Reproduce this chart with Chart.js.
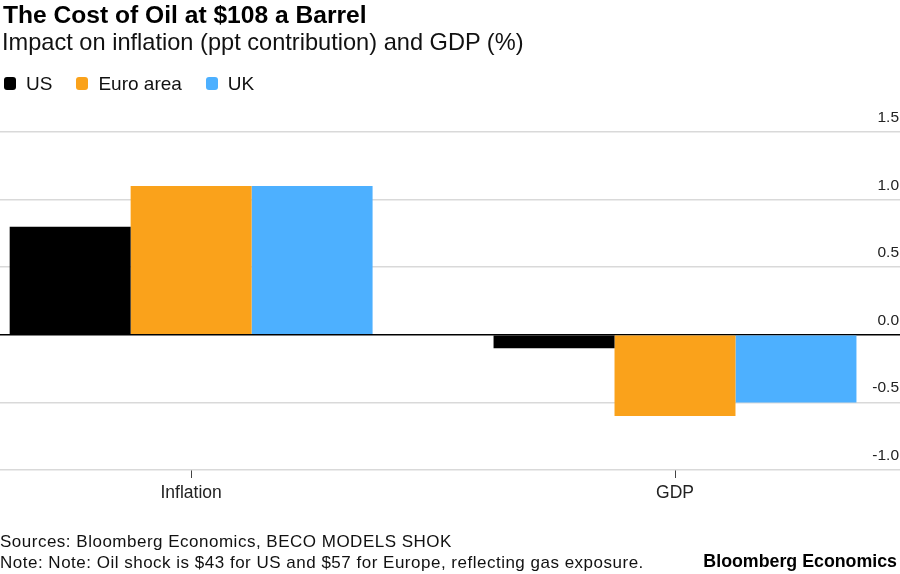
<!DOCTYPE html>
<html lang="en">
  <head>
    <meta charset="UTF-8" />
    <title>The Cost of Oil at $108 a Barrel</title>
    <style>
      body {
        margin: 0;
        padding: 0;
        background: #fff;
        font-family: 'Liberation Sans', Arial, sans-serif;
        color: #111;
      }

      .frame {
        position: relative;
        width: 900px;
        height: 574px;
        overflow: hidden;
      }

      .frame canvas {
        position: absolute;
        left: 0;
        top: 0;
      }

      .txt {
        position: absolute;
        white-space: nowrap;
        line-height: 1;
      }

      .title {
        left: 3px;
        top: 3px;
        font-size: 24.6px;
        font-weight: bold;
        color: #000;
      }

      .subtitle {
        left: 2px;
        top: 31px;
        font-size: 23.6px;
      }

      .legend {
        left: 4px;
        top: 74px;
        font-size: 19px;
        display: flex;
      }

      .legend span {
        display: inline-flex;
        align-items: center;
        margin-right: 24px;
      }

      .legend i {
        display: inline-block;
        width: 12px;
        height: 13px;
        border-radius: 3px;
        margin-right: 10px;
      }

      .foot {
        left: 0;
        font-size: 17px;
        letter-spacing: 0.5px;
      }

      .brand {
        right: 3px;
        top: 553px;
        font-size: 17.8px;
        font-weight: bold;
        color: #000;
      }
    </style>
  </head>
  <body>
    <div class="frame">
      <canvas id="oilChart" width="900" height="574"></canvas>
      <div class="txt title">The Cost of Oil at $108 a Barrel</div>
      <div class="txt subtitle">Impact on inflation (ppt contribution) and GDP (%)</div>
      <div class="txt legend" id="legend"></div>
      <div class="txt foot" style="top: 533px">Sources: Bloomberg Economics, BECO MODELS SHOK</div>
      <div class="txt foot" style="top: 554px">Note: Note: Oil shock is $43 for US and $57 for Europe, reflecting gas exposure.</div>
      <div class="txt brand">Bloomberg Economics</div>
    </div>

    <script src="https://cdn.jsdelivr.net/npm/chart.js"></script>
    <script>
      // data
      const categories = ['Inflation', 'GDP'];
      const seriesNames = ['US', 'Euro area', 'UK'];
      const usValues = [0.8, -0.1];
      const euroValues = [1.1, -0.6];
      const ukValues = [1.1, -0.5];
      const yTicks = [-1.0, -0.5, 0.0, 0.5, 1.0, 1.5];

      const colors = ['#000000', '#faa21b', '#4db0ff'];
      const allValues = [usValues, euroValues, ukValues];

      // html legend
      const legend = document.getElementById('legend');
      seriesNames.forEach(function (name, i) {
        const item = document.createElement('span');
        item.innerHTML = '<i style="background:' + colors[i] + '"></i>' + name;
        legend.appendChild(item);
      });

      // right-side y labels, sitting above each gridline
      const yLabels = {
        id: 'yLabels',
        afterDraw(chart) {
          const ctx = chart.ctx;
          const y = chart.scales.y;
          ctx.save();
          ctx.font = '15.5px "Liberation Sans", Arial, sans-serif';
          ctx.fillStyle = '#222';
          ctx.textAlign = 'right';
          ctx.textBaseline = 'alphabetic';
          yTicks.forEach(function (v) {
            ctx.fillText(v.toFixed(1), chart.width - 1, y.getPixelForValue(v) - 10);
          });
          ctx.restore();
        },
      };

      new Chart(document.getElementById('oilChart'), {
        type: 'bar',
        data: {
          datasets: seriesNames.map(function (name, i) {
            return {
              label: name,
              data: allValues[i].map(function (v, j) {
                return { x: j, y: v };
              }),
              backgroundColor: colors[i],
              borderWidth: 0,
              categoryPercentage: 0.75,
              barPercentage: 1.0,
            };
          }),
        },
        options: {
          responsive: false,
          animation: false,
          devicePixelRatio: 1,
          layout: { padding: { top: 132, bottom: 64, left: 0, right: 0 } },
          plugins: {
            legend: { display: false },
            tooltip: { enabled: false },
          },
          scales: {
            x: {
              type: 'linear',
              offset: false,
              min: -0.395,
              max: 1.465,
              grid: {
                offset: false,
                drawOnChartArea: false,
                drawTicks: true,
                tickLength: 8,
                color: '#444',
              },
              border: { display: false },
              ticks: {
                padding: 5,
                color: '#222',
                font: { family: '"Liberation Sans", Arial, sans-serif', size: 17.5 },
                callback: function (v) {
                  return categories[v];
                },
              },
              afterBuildTicks: function (scale) {
                scale.ticks = categories.map(function (c, i) {
                  return { value: i };
                });
              },
              afterFit: function (scale) {
                scale.height = 40;
              },
            },
            y: {
              min: -1,
              max: 1.5,
              ticks: { display: false, stepSize: 0.5 },
              grid: {
                drawTicks: false,
                color: function (c) {
                  return c.tick && c.tick.value === 0 ? '#000' : '#d9d9d9';
                },
                lineWidth: 1.5,
              },
              border: { display: false },
              afterFit: function (scale) {
                scale.width = 0;
              },
            },
          },
        },
        plugins: [yLabels],
      });
    </script>
  </body>
</html>
